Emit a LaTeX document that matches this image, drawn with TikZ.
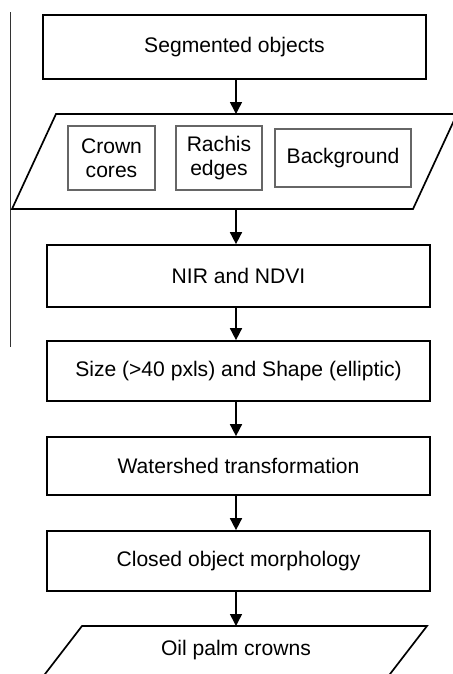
\documentclass[tikz,border=0pt]{standalone}
\usepackage{fontspec}
\setmainfont{Liberation Sans}
\usetikzlibrary{arrows.meta}

\begin{document}
\begin{tikzpicture}[
		every node/.style={rectangle, inner sep=0pt, align=center, font=\fontsize{15}{17}\selectfont},
		box/.style={draw, line width=1.2pt, minimum width=9.575cm},
		inbox/.style={draw=black!60, line width=0.9pt},
		flow/.style={-{Triangle[length=8.5pt, width=8.5pt]}, line width=1.1pt}
	]
  \useasboundingbox (0cm, 0cm) rectangle (11.325cm, -16.85cm);
  \coordinate (axis) at (5.9cm, 0cm);
  \draw [black!80, line width=0.6pt] (0.25cm, -0.3cm) -- (0.25cm, -8.675cm);
  \node (seg) [box, minimum height=1.6cm] at (5.8625cm, -1.175cm) {Segmented objects};
  % classes
  \draw [line width=1.2pt] (0.3cm, -5.225cm) -- (10.325cm, -5.225cm) -- (11.425cm, -2.85cm) -- (1.4cm, -2.85cm) -- cycle;
  \coordinate (cls_in) at (5.9cm, -2.85cm);
  \coordinate (cls_out) at (5.9cm, -5.225cm);
  \node (crown) [inbox, minimum width=2.175cm, minimum height=1.6cm] at (2.7875cm, -3.95cm) {Crown\\cores};
  \node (rachis) [inbox, minimum width=2.15cm, minimum height=1.6cm] at (5.475cm, -3.95cm) {Rachis\\edges};
  \node (bg) [inbox, minimum width=3.4cm, minimum height=1.45cm] at (8.575cm, -3.95cm) {Background};
  % steps
  \node (nir) [box, minimum height=1.55cm] at (5.9625cm, -6.9cm) {NIR and NDVI};
  \node (size) [box, minimum height=1.5cm] at (5.9625cm, -9.275cm) {Size (>40 pxls) and Shape (elliptic)};
  \node (water) [box, minimum height=1.45cm] at (5.9625cm, -11.65cm) {Watershed transformation};
  \node (closed) [box, minimum height=1.5cm] at (5.9625cm, -14.025cm) {Closed object morphology};
  % output
  \draw [line width=1.2pt] (2.05cm, -15.65cm) -- (10.675cm, -15.65cm) -- (9.7125cm, -16.9cm) -- (1.0875cm, -16.9cm) -- cycle;
  \coordinate (oil_in) at (5.9cm, -15.65cm);
  \node (oil) at (5.9cm, -16.25cm) {Oil palm crowns};
  \draw [flow] (seg.south -| axis) -- (cls_in);
  \draw [flow] (cls_out) -- (nir.north -| axis);
  \draw [flow] (nir.south -| axis) -- (size.north -| axis);
  \draw [flow] (size.south -| axis) -- (water.north -| axis);
  \draw [flow] (water.south -| axis) -- (closed.north -| axis);
  \draw [flow] (closed.south -| axis) -- (oil_in);
\end{tikzpicture}
\end{document}
